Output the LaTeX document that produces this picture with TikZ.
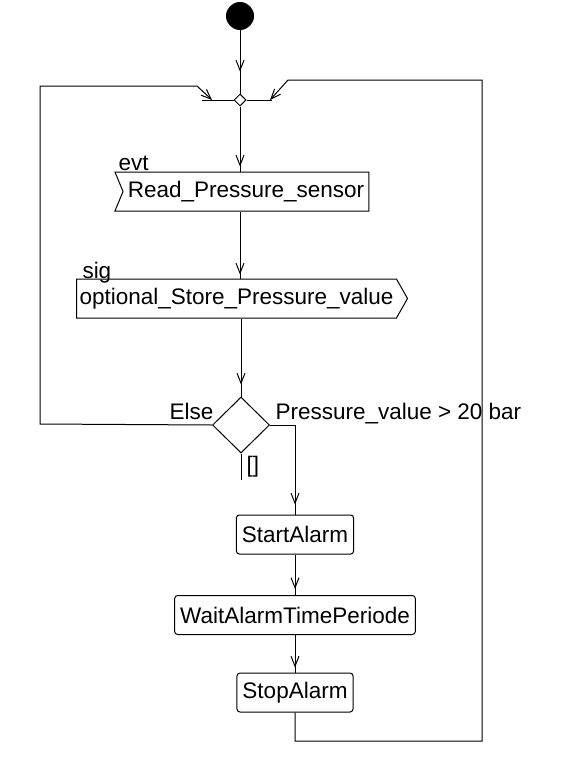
\documentclass[tikz,border=0pt]{standalone}
\usepackage{fontspec}
\setmainfont{Liberation Sans}
\usetikzlibrary{arrows.meta,shapes.geometric,shapes.symbols,decorations.markings}

\tikzset{
  flow/.style={postaction={decorate},
    decoration={markings, mark=at position #1 with {\arrow{>}}}},
  flow/.default=-5pt,
  startdot/.style={circle, fill, minimum size=28pt, inner sep=0pt},
  mergedot/.style={diamond, draw, fill=white, minimum width=12pt, minimum height=12pt, inner sep=0pt},
  evtbox/.style={signal, draw, signal from=west, signal to=nowhere, signal pointer angle=135,
    minimum width=254pt, minimum height=39pt, inner sep=3pt},
  sigbox/.style={signal, draw, signal to=east, signal pointer angle=121,
    minimum width=325pt, minimum height=39pt, inner sep=3pt},
  decision/.style={diamond, draw, minimum width=57pt, minimum height=56pt, inner sep=0pt},
  action/.style={draw, rounded corners=3pt, minimum height=39pt, inner xsep=5.5pt},
  label/.style={inner sep=0pt}
}

\begin{document}
\begin{tikzpicture}[x=1pt, y=-1pt, line width=1pt, >={Straight Barb[length=10pt,width=8pt]},
    font=\fontsize{22.5}{26}\selectfont]
  \useasboundingbox (0,0) rectangle (585,776);

  % Start und Zusammenfuehrung
  \node[startdot] (start) at (240,16) {};
  \node[mergedot] (merge) at (240,100) {};
  \coordinate (mleft) at (202,100);
  \coordinate (mright) at (272,100);
  \coordinate (lin) at (212,100);
  \coordinate (rin) at (270,100);

  % Ereignis und Signal
  \node[evtbox] (evt) at (246,191.5) {Read\_Pressure\_sensor};
  \node[label, anchor=base west] (evtlbl) at (118,170) {evt};
  \node[sigbox] (sig) at (236.5,298.5) {optional\_Store\_Pressure\_value};
  \node[label, anchor=base west] (siglbl) at (82,278) {sig};

  % Entscheidung
  \node[decision] (dec) at (241,425) {};
  \node[label, anchor=base east] (else) at (214,419) {Else};
  \node[label, anchor=base west] (guard) at (275,419) {Pressure\_value > 20 bar};
  \coordinate (empty) at (241,480);
  \node[label, anchor=north west] (emptylbl) at (246,456) {[]};

  % Aktionen
  \node[action] (startal) at (295,534.5) {StartAlarm};
  \node[action] (wait) at (295,615) {WaitAlarmTimePeriode};
  \node[action] (stopal) at (295,692.5) {StopAlarm};

  % Verbindungen
  \draw[flow=-22pt] (start) -- (merge);
  \draw (mleft) -- (merge.west);
  \draw (merge.east) -- (mright);
  \draw[flow] (merge) -- (merge |- evt.north);
  \draw[flow=-4pt] (merge |- evt.south) -- (merge |- sig.north);
  \draw[flow=-12pt] (dec.north |- sig.south) -- (dec.north);
  \draw[flow=-10pt] (dec.east) -| (startal.north);
  \draw[flow=-6pt] (startal) -- (wait);
  \draw[flow] (wait) -- (stopal);
  \draw (dec.south) -- (empty);

  % Rueckfuehrungen
  \draw[->] (dec.west) -- (40,424) -- (40,86) -- (197,86) -- (lin);
  \draw[->] (stopal.south) -- (295,741) -- (482,741) -- (482,80) -- (288,80) -- (rin);
\end{tikzpicture}
\end{document}
